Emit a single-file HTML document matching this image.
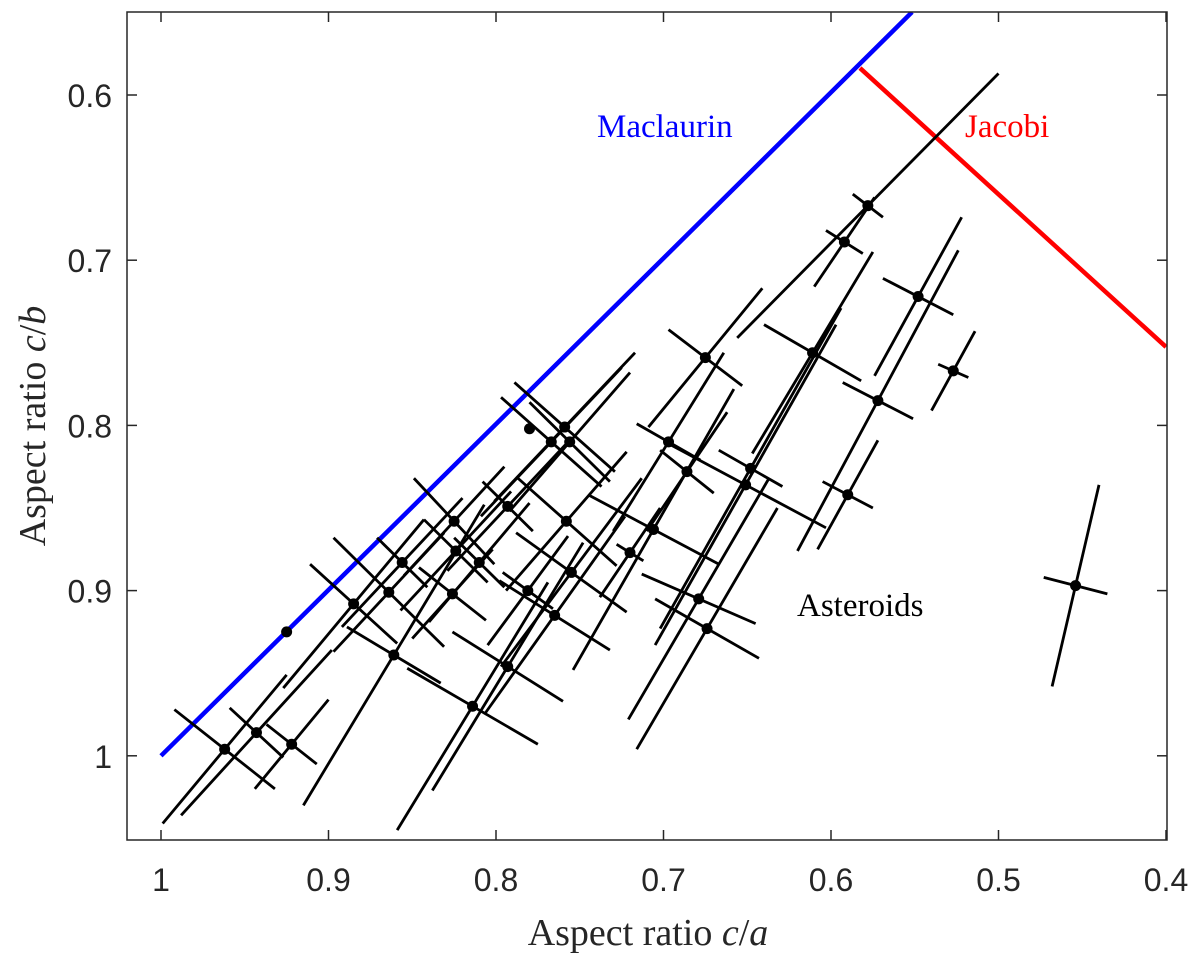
<!DOCTYPE html>
<html><head><meta charset="utf-8"><style>
body{margin:0;background:#fff}
svg{display:block}
.tk{font-family:"Liberation Sans",sans-serif;font-size:32px;fill:#262626}
.sf{font-family:"Liberation Serif",serif}
</style></head><body>
<svg id="chart" width="1200" height="963" viewBox="0 0 1200 963" xmlns="http://www.w3.org/2000/svg">
<defs><clipPath id="pc"><rect x="127" y="12" width="1040" height="828"/></clipPath></defs>
<g id="marks" clip-path="url(#pc)"></g>
<rect x="127" y="12" width="1040" height="828" fill="none" stroke="#262626" stroke-width="1.5"/>
<g id="axes"></g>
<text class="sf" x="597" y="137" font-size="33" fill="#0000ff">Maclaurin</text>
<text class="sf" x="965" y="137" font-size="33" fill="#ff0000">Jacobi</text>
<text class="sf" x="797" y="616" font-size="33" fill="#000">Asteroids</text>
<text class="sf" x="648" y="945" font-size="38" text-anchor="middle" fill="#262626">Aspect ratio <tspan font-style="italic">c</tspan>/<tspan font-style="italic">a</tspan></text>
<text class="sf" transform="translate(45,426) rotate(-90)" font-size="38" text-anchor="middle" fill="#262626">Aspect ratio <tspan font-style="italic">c</tspan>/<tspan font-style="italic">b</tspan></text>
</svg>
<script>
const xTicks=[1,0.9,0.8,0.7,0.6,0.5,0.4];
const xTickLabels=["1","0.9","0.8","0.7","0.6","0.5","0.4"];
const yTicks=[0.6,0.7,0.8,0.9,1];
const yTickLabels=["0.6","0.7","0.8","0.9","1"];
const maclaurinX=[1,0.5516];
const maclaurinY=[1,0.5498];
const jacobiX=[0.5827,0.4];
const jacobiY=[0.5837,0.7525];
const ptCA=[0.962,0.943,0.922,0.925,0.885,0.864,0.856,0.825,0.824,0.810,0.826,0.861,0.814,0.793,0.780,0.767,0.759,0.756,0.758,0.755,0.781,0.765,0.793,0.675,0.697,0.686,0.706,0.720,0.679,0.674,0.648,0.651,0.611,0.592,0.578,0.548,0.572,0.527,0.590,0.454];
const ptCB=[0.996,0.986,0.993,0.925,0.908,0.901,0.883,0.858,0.876,0.883,0.902,0.939,0.970,0.849,0.802,0.810,0.801,0.810,0.858,0.889,0.900,0.915,0.946,0.759,0.810,0.828,0.863,0.877,0.905,0.923,0.826,0.836,0.756,0.689,0.667,0.722,0.785,0.767,0.842,0.897];
const majA=[0.037,0.045,0.022,0,0.042,0.033,0.036,0.030,0.033,0.030,0.024,0.054,0.045,0.036,0,0.042,0.042,0.036,0.036,0.042,0.024,0.042,0.045,0.034,0.033,0.024,0.048,0.018,0.042,0.042,0.054,0.054,0.036,0.018,0.078,0.026,0.048,0.013,0.018,0.014];
const majB=[0.045,0.050,0.027,0,0.051,0.036,0.039,0.033,0.036,0.036,0.027,0.091,0.075,0.039,0,0.045,0.045,0.042,0.042,0.057,0.033,0.060,0.075,0.042,0.054,0.036,0.085,0.027,0.073,0.073,0.097,0.097,0.061,0.027,0.080,0.048,0.091,0.024,0.033,0.061];
const minA=[0.030,0.016,0.015,0,0.026,0.033,0.015,0.024,0.019,0.015,0.020,0.028,0.039,0.015,0,0.030,0.030,0.024,0.030,0.033,0.015,0.033,0.033,0.022,0.019,0.016,0.039,0.008,0.034,0.031,0.019,0.048,0.029,0.011,0.009,0.021,0.021,0.009,0.015,0.019];
const minB=[0.024,0.015,0.012,0,0.024,0.033,0.015,0.026,0.019,0.015,0.016,0.017,0.023,0.015,0,0.027,0.027,0.024,0.027,0.024,0.011,0.021,0.021,0.017,0.011,0.013,0.021,0.005,0.015,0.018,0.011,0.026,0.017,0.007,0.007,0.011,0.011,0.004,0.008,0.005];

const NS="http://www.w3.org/2000/svg";
function sx(v){return 161+(1-v)*1675;}
function sy(v){return 95+(v-0.6)*1652;}
const marks=document.getElementById('marks');
const axes=document.getElementById('axes');
function mk(tag,attrs,parent){const e=document.createElementNS(NS,tag);for(const k in attrs)e.setAttribute(k,attrs[k]);parent.appendChild(e);return e;}

xTicks.forEach((t,i)=>{
  const x=sx(t);
  const a=mk('line',{x1:x,x2:x,y1:840,y2:830,stroke:'#262626','stroke-width':1.5},axes);
  
  
  const b=mk('line',{x1:x,x2:x,y1:12,y2:22,stroke:'#262626','stroke-width':1.5},axes);
  
  
  const tx=mk('text',{x:x,y:891,'text-anchor':'middle',class:'tk'},axes);
  tx.textContent=xTickLabels[i];
  
  
});
yTicks.forEach((t,i)=>{
  const y=sy(t);
  const a=mk('line',{x1:127,x2:137,y1:y,y2:y,stroke:'#262626','stroke-width':1.5},axes);
  
  
  const b=mk('line',{x1:1157,x2:1167,y1:y,y2:y,stroke:'#262626','stroke-width':1.5},axes);
  
  
  const tx=mk('text',{x:112,y:y+12,'text-anchor':'end',class:'tk'},axes);
  tx.textContent=yTickLabels[i];
  
  
});

const mac=mk('line',{x1:sx(maclaurinX[0]),y1:sy(maclaurinY[0]),x2:sx(maclaurinX[1]),y2:sy(maclaurinY[1]),stroke:'#0000ff','stroke-width':4.5},marks);


const jac=mk('line',{x1:sx(jacobiX[0]),y1:sy(jacobiY[0]),x2:sx(jacobiX[1]),y2:sy(jacobiY[1]),stroke:'#ff0000','stroke-width':4.5},marks);



for(let i=0;i<ptCA.length;i++){
  const a=ptCA[i],b=ptCB[i];
  if(majA[i]||majB[i]){
    const l1=mk('line',{x1:sx(a+majA[i]),y1:sy(b+majB[i]),x2:sx(a-majA[i]),y2:sy(b-majB[i]),stroke:'#000','stroke-width':2.8},marks);
    
    
    const l2=mk('line',{x1:sx(a+minA[i]),y1:sy(b-minB[i]),x2:sx(a-minA[i]),y2:sy(b+minB[i]),stroke:'#000','stroke-width':2.8},marks);
    
    
  }
}
for(let i=0;i<ptCA.length;i++){
  const c=mk('circle',{cx:sx(ptCA[i]),cy:sy(ptCB[i]),r:5.5,fill:'#000'},marks);
  
  
}
</script>
</body></html>
